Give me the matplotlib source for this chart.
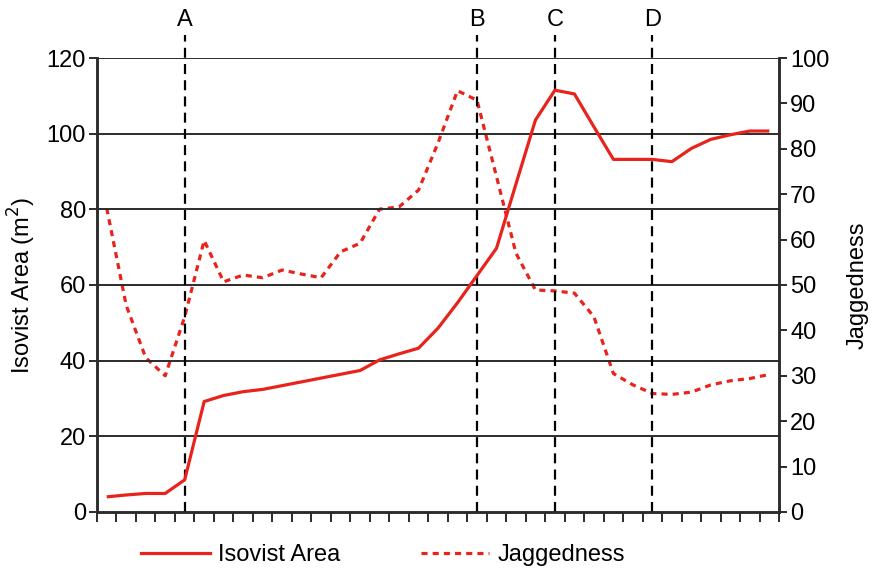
import matplotlib
matplotlib.use("Agg")
import matplotlib.pyplot as plt
from matplotlib import font_manager
from matplotlib.lines import Line2D
import numpy as np

# Pick a narrow sans face when available
names = {f.name for f in font_manager.fontManager.ttflist}
family = "Liberation Sans Narrow" if "Liberation Sans Narrow" in names else "Liberation Sans"
plt.rcParams["font.family"] = [family, "DejaVu Sans"]

# Data along the walk (35 sample positions)
isovist_area = [4.0, 4.5, 4.9, 4.9, 8.5, 29.2, 30.8, 31.8, 32.4, 33.4, 34.4, 35.4,
                36.4, 37.4, 40.2, 41.8, 43.3, 48.6, 55.3, 62.5, 69.7, 86.7, 103.6,
                111.5, 110.5, 101.8, 93.2, 93.2, 93.2, 92.6, 96.1, 98.5, 99.7, 100.7, 100.7]
jaggedness = [66.9, 45.5, 34.0, 30.0, 43.0, 59.8, 50.7, 52.2, 51.6, 53.3, 52.4, 51.6,
              57.3, 59.2, 66.7, 67.2, 70.9, 81.3, 92.8, 90.7, 73.9, 57.0, 48.9, 48.7,
              48.2, 43.0, 30.5, 28.0, 26.1, 25.9, 26.4, 28.0, 28.9, 29.4, 30.3]
marker_labels = ["A", "B", "C", "D"]
marker_index = [4, 19, 23, 28]

n = len(isovist_area)
x = np.arange(n) + 0.5

red = "#e8231c"
dark = "#2b2b2b"
fs = 17

fig = plt.figure(figsize=(8.77, 5.72), dpi=100)
ax = fig.add_axes([0.1106, 0.1049, 0.7777, 0.7937])
ax2 = ax.twinx()

ax.set_xlim(0, n)
ax.set_ylim(0, 120)
ax2.set_ylim(0, 100)

# horizontal grid from the left scale
for v in range(20, 121, 20):
    ax.axhline(v, color=dark, lw=1.4, zorder=1)

# reference positions A-D
for lab, idx in zip(marker_labels, marker_index):
    ax.plot([x[idx], x[idx]], [0, 126], color="black", lw=1.6,
            linestyle=(0, (4.5, 2.8)), clip_on=False, zorder=2)
    ax.text(x[idx], 130.0, lab, ha="center", va="center", fontsize=fs, clip_on=False)

ax.plot(x, isovist_area, color=red, lw=2.3, zorder=4, solid_capstyle="butt")
ax2.plot(x, jaggedness, color=red, lw=2.3, linestyle=(0, (1.9, 1.6)), zorder=4)

ax.set_xticks(np.arange(0, n + 1))
ax.set_xticklabels([])
ax.set_yticks(range(0, 121, 20))
ax2.set_yticks(range(0, 101, 10))

ax.tick_params(axis="x", direction="out", length=7, width=1.4, color=dark)
ax.tick_params(axis="y", direction="out", length=6, width=1.4, color=dark,
               labelsize=fs, pad=2)
ax2.tick_params(axis="y", direction="out", length=6, width=1.4, color=dark,
                labelsize=fs, pad=2)

for a in (ax, ax2):
    a.spines["top"].set_visible(False)
    for s in ("left", "right", "bottom"):
        a.spines[s].set_linewidth(1.8)
        a.spines[s].set_color(dark)
ax.set_zorder(ax2.get_zorder() + 1)
ax.patch.set_visible(False)

ax.set_ylabel("Isovist Area (m$^2$)", fontsize=fs, labelpad=6)
ax2.set_ylabel("Jaggedness", fontsize=fs, labelpad=12)

handles = [Line2D([], [], color=red, lw=2.3),
           Line2D([], [], color=red, lw=2.3, linestyle=(0, (1.9, 1.6)))]
fig.legend(handles, ["Isovist Area", "Jaggedness"], loc="center",
           bbox_to_anchor=(0.437, 0.029), ncol=2, frameon=False, fontsize=fs,
           handlelength=2.9, handletextpad=0.35, columnspacing=3.4)

fig.savefig("out.png", dpi=100)
